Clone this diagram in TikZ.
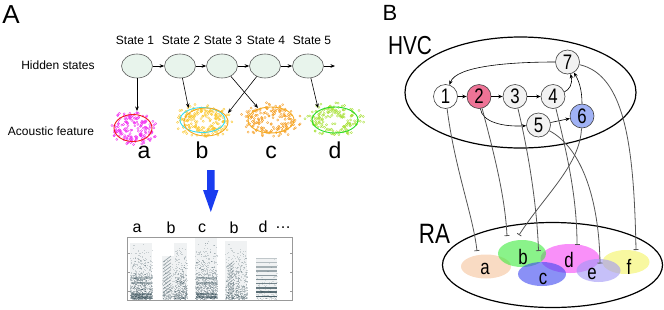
\documentclass[tikz,border=0pt]{standalone}
\usepackage{fontspec}
\setmainfont{Liberation Sans}
\newfontfamily\gothic[FakeStretch=0.8]{Liberation Sans}
\usetikzlibrary{arrows.meta,shapes.geometric}
\definecolor{stfill}{RGB}{232,244,236}
\definecolor{ststroke}{RGB}{90,90,90}
\definecolor{cred}{RGB}{240,30,30}
\definecolor{ccyan}{RGB}{60,220,240}
\definecolor{corange}{RGB}{245,170,30}
\definecolor{cgreen}{RGB}{40,220,40}
\definecolor{dmag}{RGB}{240,50,240}
\definecolor{dyel}{RGB}{250,200,50}
\definecolor{dora}{RGB}{245,160,40}
\definecolor{dlime}{RGB}{170,225,60}
\definecolor{arrowblue}{RGB}{25,60,240}
\definecolor{spec}{RGB}{45,70,80}
\definecolor{npink}{RGB}{238,115,150}
\definecolor{nblue}{RGB}{160,178,245}
\definecolor{ngray}{RGB}{242,242,242}
\definecolor{projc}{RGB}{85,85,85}
\definecolor{rapeach}{RGB}{245,195,155}
\definecolor{ragreen}{RGB}{60,235,60}
\definecolor{rablue}{RGB}{60,70,240}
\definecolor{ramag}{RGB}{245,70,245}
\definecolor{ralav}{RGB}{160,150,245}
\definecolor{rayel}{RGB}{245,245,120}
\newcommand\mycluster[6]{%
  \foreach \i in {1,...,#6}{%
    \pgfmathsetmacro\ang{360*rnd}%
    \pgfmathsetmacro\rr{1.4*(rnd+sqrt(rnd))/2}%
    \draw[#5, line width=0.35pt] ({#1+#3*\rr*cos(\ang)},{#2+#4*\rr*sin(\ang)}) circle[radius=1.1];
  }}
\newcommand\specseg[5]{%
  \fill[spec, opacity=0.07] (#1,#3) rectangle (#2,299);
  \foreach \i in {1,...,#4}{%
    \pgfmathsetmacro\xx{#1+rnd*(#2-#1)}%
    \pgfmathsetmacro\yy{298.8-(298.8-#3)*rnd*rnd}%
    \fill[spec, opacity=#5] (\xx,\yy) rectangle ++(1.2,0.9);
  }}
\begin{document}
\begin{tikzpicture}[x=1pt,y=-1pt,
  statenode/.style={ellipse, draw=ststroke, fill=stfill, minimum width=31pt, minimum height=24pt, inner sep=0pt, line width=0.6pt},
  arr/.style={-{Stealth[length=4.5pt,width=3.6pt]}, line width=0.6pt},
  lbl/.style={font=\fontsize{12}{14}\selectfont, inner sep=0pt},
  big/.style={font=\fontsize{23}{26}\selectfont, inner sep=0pt, anchor=base},
  mid/.style={font=\fontsize{16}{18}\selectfont, inner sep=0pt, anchor=base},
  hvcnode/.style={circle, draw=black!75, line width=0.6pt, minimum size=24pt, inner sep=0pt, font=\gothic\fontsize{21}{21}\selectfont},
  ralbl/.style={font=\gothic\fontsize{21}{21}\selectfont, inner sep=0pt, anchor=base},
  proj/.style={draw=projc, line width=0.8pt, -{Bar[width=5pt,line width=0.8pt]}}
]
\useasboundingbox (0,0) rectangle (664,309);
\pgfmathsetseed{7}
% ---------------- Panel A ----------------
\node[font=\fontsize{26}{28}\selectfont, inner sep=0pt] (A) at (11,14.5) {A};
\node[lbl] (hs) at (58,65) {Hidden states};
\node[lbl] (af) at (51,131) {Acoustic feature};
\foreach \k/\x in {1/137,2/180,3/222,4/265,5/308}{
  \node[statenode] (s\k) at (\x,66) {};
}
\foreach \k/\x in {1/135,2/181,3/223,4/266,5/312}{
  \node[lbl] (st\k) at (\x,40) {State \k};
}
\coordinate (e5) at (335,66);
\draw[arr] (s1) -- (s2);
\draw[arr] (s2) -- (s3);
\draw[arr] (s3) -- (s4);
\draw[arr] (s4) -- (s5);
\draw[arr] (s5) -- (e5);
% clusters
\mycluster{133}{128}{19}{13.5}{dmag}{170}
\mycluster{205}{121}{22}{13.5}{dyel}{190}
\mycluster{271}{120}{23}{13}{dora}{170}
\mycluster{335}{120}{23}{13}{dlime}{170}
\draw[cred, line width=0.9pt] (133,128) ellipse[x radius=19, y radius=13.5];
\draw[ccyan, line width=0.9pt] (202.5,120) ellipse[x radius=22.5, y radius=12.5];
\draw[corange, line width=0.9pt] (206,122) ellipse[x radius=22, y radius=14];
\draw[corange, line width=0.9pt] (271,120) ellipse[x radius=23, y radius=13];
\draw[cgreen, line width=0.9pt] (335,120) ellipse[x radius=23, y radius=13];
\coordinate (ta) at (137,111);
\coordinate (tb1) at (188.5,108);
\coordinate (tb2) at (228,113);
\coordinate (tc) at (258,108);
\coordinate (td) at (318,108);
\draw[arr] (s1) -- (ta);
\draw[arr] (s2) -- (tb1);
\draw[arr] (s3) -- (tc);
\draw[arr] (s4) -- (tb2);
\draw[arr] (s5) -- (td);
\node[big] (la) at (144,158) {a};
\node[big] (lb) at (202,158) {b};
\node[big] (lc) at (271,158) {c};
\node[big] (ld) at (335,158) {d};
% blue arrow
\fill[arrowblue] (207,170) -- (214.5,170) -- (214.5,190) -- (218.5,190) -- (210.8,212) -- (203,190) -- (207,190) -- cycle;
% spectrogram labels
\node[mid] (sa) at (137,232) {a};
\node[mid] (sb) at (171,233) {b};
\node[mid] (sc) at (202,232) {c};
\node[mid] (sb2) at (234,233) {b};
\node[mid] (sd) at (263,232) {d};
\node[mid] (sdots) at (283,228) {…};
% spectrogram
\specseg{130}{152}{243}{800}{0.22}
\specseg{174}{187}{243}{420}{0.22}
\specseg{162}{174}{256}{170}{0.18}
\specseg{195}{217}{238}{750}{0.22}
\specseg{225}{247}{241}{600}{0.2}
\specseg{256}{277}{258}{130}{0.15}
\foreach \k in {0,...,10}{
  \draw[spec, opacity=0.45, line width=0.7pt] (163,{262+3.4*\k}) -- (171,{256+3.4*\k});
  \draw[spec, opacity=0.35, line width=0.7pt] (228,{266+3*\k}) -- (234,{261+3*\k});
}
\foreach \k in {0,...,9}{
  \draw[spec, opacity={0.25+0.065*\k}, line width=1.3pt] (256,{258.5+4.2*\k}) -- (277,{258.5+4.2*\k});
}
\foreach \yy/\o in {278/0.3,283/0.35,294/0.4,297/0.45}{
  \draw[spec, opacity=\o, line width=1.2pt] (131,\yy) -- (152,\yy);
  \draw[spec, opacity=\o, line width=1.2pt] (196,\yy) -- (217,\yy);
}
\draw[black!40, line width=0.6pt] (127,237) rectangle (292,300);
\foreach \yy in {253,272,291}{
  \draw[black!40, line width=0.4pt] (127,\yy) -- (129.5,\yy);
  \draw[black!40, line width=0.4pt] (292,\yy) -- (289.5,\yy);
}
% ---------------- Panel B ----------------
\node[font=\fontsize{22}{24}\selectfont, inner sep=0pt] (B) at (390,13) {B};
\draw[black, line width=1.2pt] (520.5,92.5) ellipse[x radius=115.5, y radius=55.5];
\node[font=\gothic\fontsize{26}{28}\selectfont, inner sep=0pt] (hvc) at (410,45.5) {HVC};
\draw[black, line width=1.2pt] (552.5,265) ellipse[x radius=110, y radius=42.5];
\node[font=\gothic\fontsize{28}{30}\selectfont, inner sep=0pt] (ra) at (434.5,234) {RA};
% RA sub-populations
\fill[rapeach, opacity=0.6] (486,266.5) ellipse[x radius=25, y radius=12];
\fill[ramag, opacity=0.6] (570,258.5) ellipse[x radius=29.5, y radius=14.5];
\fill[ragreen, opacity=0.6] (522,253.5) ellipse[x radius=24, y radius=13.5];
\fill[rablue, opacity=0.6] (542,274) ellipse[x radius=24, y radius=12];
\fill[rayel, opacity=0.7] (626,262) ellipse[x radius=23.5, y radius=12];
\fill[ralav, opacity=0.6] (598.5,270.5) ellipse[x radius=22, y radius=11.5];
\node[ralbl] (ra-a) at (485,274) {a};
\node[ralbl] (ra-b) at (523,264) {b};
\node[ralbl] (ra-c) at (543,284) {c};
\node[ralbl] (ra-d) at (569,267) {d};
\node[ralbl] (ra-e) at (592,279) {e};
\node[ralbl] (ra-f) at (629,274) {f};
% HVC neurons
\node[hvcnode, fill=white] (n1) at (445.5,96.5) {1};
\node[hvcnode, fill=npink] (n2) at (479,96.5) {2};
\node[hvcnode, fill=ngray] (n3) at (515,96.5) {3};
\node[hvcnode, fill=ngray] (n4) at (553,96.5) {4};
\node[hvcnode, fill=ngray] (n5) at (538.5,125) {5};
\node[hvcnode, fill=nblue] (n6) at (582,116) {6};
\node[hvcnode, fill=ngray] (n7) at (567.5,62) {7};
\draw[arr] (n1) -- (n2);
\draw[arr] (n2) -- (n3);
\draw[arr] (n3) -- (n4);
\draw[arr] (n5) -- (n6);
\draw[arr] (n2) .. controls (482,122) and (503,127) .. (n5);
\draw[arr] (n4) .. controls (569,90) and (573,84) .. (n7);
\draw[arr] (n6) .. controls (582,90) and (579,81) .. (n7);
\draw[arr] (n7) .. controls (510,62) and (456,66) .. (n1);
% projections
\coordinate (pa) at (477,251);
\coordinate (pb) at (507,236);
\coordinate (pbc) at (538.5,251);
\coordinate (pd) at (577,245);
\coordinate (pe) at (600,263.5);
\coordinate (pb2) at (519,235);
\coordinate (pf) at (636,250);
\draw[proj] (n1) .. controls (455,170) and (473,215) .. (pa);
\draw[proj] (n2) .. controls (493,150) and (505,195) .. (pb);
\draw[proj] (n3) .. controls (528,150) and (537,205) .. (pbc);
\draw[proj] (n4) .. controls (566,150) and (577,195) .. (pd);
\draw[proj] (n5) .. controls (582,148) and (599,200) .. (pe);
\draw[proj] (n6) .. controls (580,165) and (545,195) .. (pb2);
\draw[proj] (n7) .. controls (626,75) and (634,150) .. (pf);
\end{tikzpicture}
\end{document}
